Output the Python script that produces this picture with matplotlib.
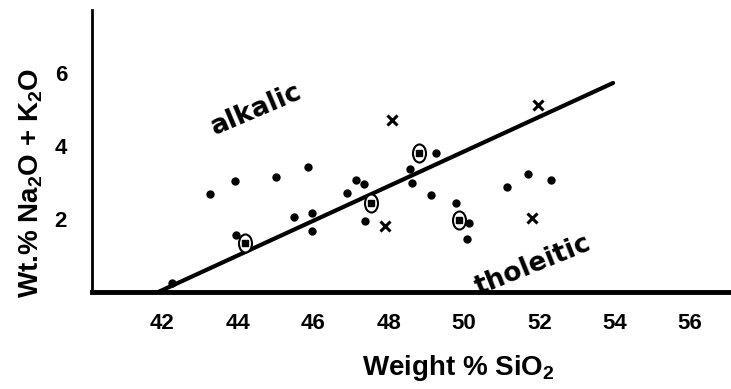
import matplotlib
matplotlib.use("Agg")
import matplotlib.pyplot as plt
from matplotlib.path import Path
from matplotlib.transforms import Affine2D

plt.rcParams['font.family'] = 'Liberation Sans'
plt.rcParams['font.weight'] = 'bold'
plt.rcParams['mathtext.fontset'] = 'custom'
plt.rcParams['mathtext.rm'] = 'Liberation Sans:bold'
plt.rcParams['mathtext.it'] = 'Liberation Sans:bold'
plt.rcParams['mathtext.bf'] = 'Liberation Sans:bold'

# Data
dot_sio2 = [42.26, 43.26, 43.92, 45.01, 45.87, 43.94, 45.50, 45.97, 45.96,
            46.89, 47.13, 47.34, 47.38, 48.57, 48.63, 49.14, 49.26, 49.80,
            50.14, 50.07, 51.15, 51.71, 52.31]
dot_alk = [0.25, 2.68, 3.04, 3.16, 3.43, 1.55, 2.05, 2.17, 1.68,
           2.72, 3.07, 2.97, 1.94, 3.37, 2.98, 2.66, 3.82, 2.43,
           1.90, 1.46, 2.89, 3.23, 3.07]

circ_sio2 = [44.19, 47.53, 48.81, 49.86]
circ_alk = [1.33, 2.43, 3.82, 1.97]

cross_sio2 = [47.90, 48.10, 51.98, 51.82]
cross_alk = [1.81, 4.71, 5.12, 2.02]

# dividing line alkalic / tholeitic
line_sio2 = [41.89, 53.96]
line_alk = [0.0, 5.73]

xticks = [42, 44, 46, 48, 50, 52, 54, 56]
yticks = [2, 4, 6]

fig = plt.figure(figsize=(7.31, 3.89), dpi=100)
ax = fig.add_axes([92 / 731, 97 / 389, 639 / 731, 282 / 389])

ax.plot(line_sio2, line_alk, color='black', lw=3, solid_capstyle='round')
ax.plot(dot_sio2, dot_alk, 'o', color='black', ms=5, ls='none')
ellipse = Path.unit_circle().transformed(Affine2D().scale(0.72, 1.0))
ax.plot(circ_sio2, circ_alk, marker=ellipse, ms=13, mfc='white', mec='black',
        mew=1.5, ls='none')
ax.plot(circ_sio2, circ_alk, 's', color='black', ms=4, ls='none')
ax.plot(cross_sio2, cross_alk, 'x', color='black', ms=6.5, mew=2.2, ls='none')

ax.text(44.50, 4.99, 'alkalic', family='DejaVu Sans', fontsize=19,
        fontweight='bold', rotation=23, ha='center', va='center',
        rotation_mode='anchor')
ax.text(51.84, 0.74, 'tholeitic', family='DejaVu Sans', fontsize=19,
        fontweight='bold', rotation=22, ha='center', va='center',
        rotation_mode='anchor')

ax.set_xlim(40.13, 57.09)
ax.set_ylim(0, 7.73)
ax.set_xticks(xticks)
ax.set_yticks(yticks)
ax.tick_params(length=0, labelsize=16)
ax.tick_params(axis='x', pad=15)
ax.tick_params(axis='y', pad=18)
for s in ['top', 'right']:
    ax.spines[s].set_visible(False)
ax.spines['left'].set_linewidth(2)
ax.spines['bottom'].set_linewidth(3.5)

fig.text(458 / 731, 1 - 375 / 389, 'Weight % SiO$_2$', fontsize=20,
         fontweight='bold', ha='center', va='baseline')
fig.text(31 / 731, 1 - 183 / 389, 'Wt.% Na$_2$O + K$_2$O', fontsize=20,
         fontweight='bold', ha='center', va='center', rotation=90)

fig.savefig('out.png', dpi=100)
